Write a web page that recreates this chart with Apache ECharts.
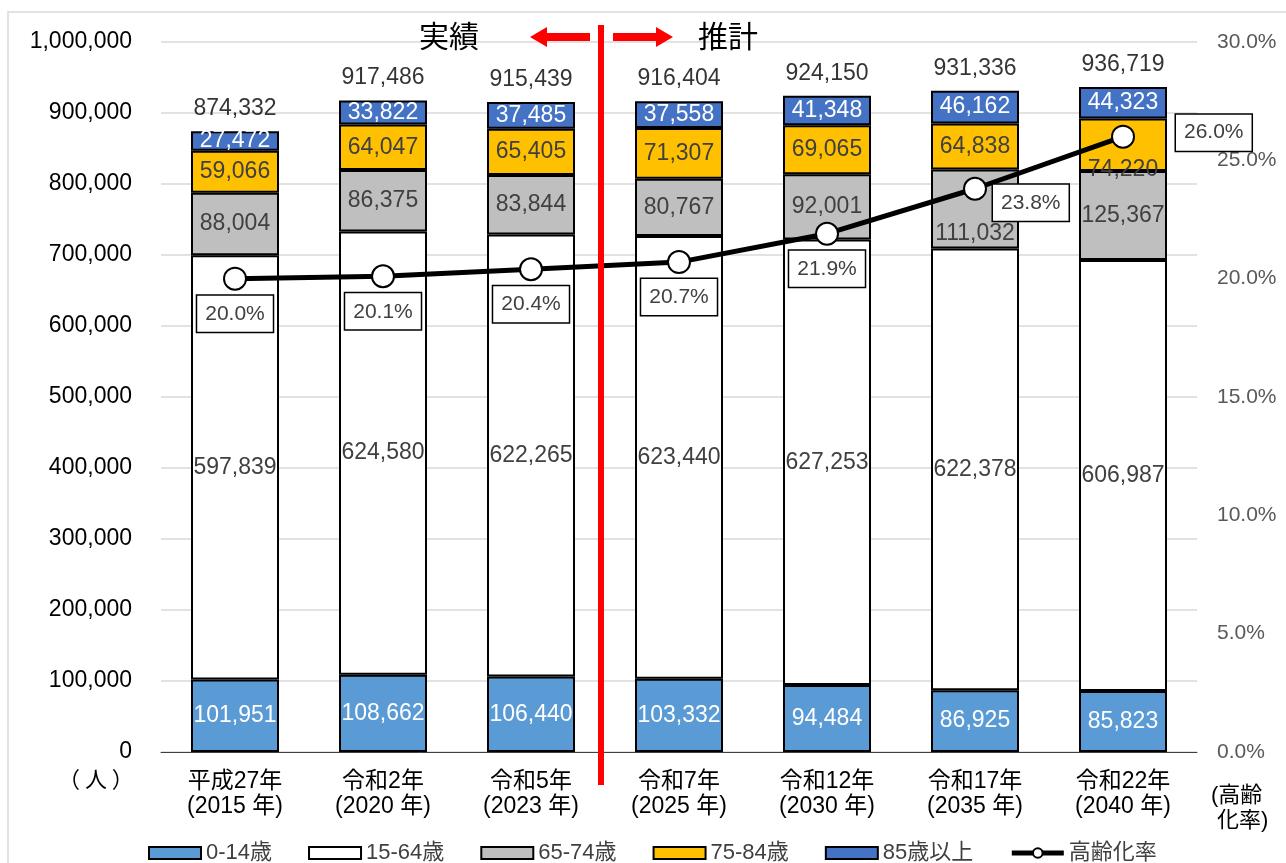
<!DOCTYPE html>
<html>
<head>
<meta charset="utf-8">
<script src="https://cdn.jsdelivr.net/npm/echarts@6/dist/echarts.min.js"></script>
<style>html,body{margin:0;padding:0;background:#fff}#c{width:1286px;height:863px}</style>
</head>
<body>
<div id="c"></div>
<script>
const categories = ['平成27年\n(2015 年)', '令和2年\n(2020 年)', '令和5年\n(2023 年)', '令和7年\n(2025 年)', '令和12年\n(2030 年)', '令和17年\n(2035 年)', '令和22年\n(2040 年)'];
const age0_14 = [101951, 108662, 106440, 103332, 94484, 86925, 85823];
const age15_64 = [597839, 624580, 622265, 623440, 627253, 622378, 606987];
const age65_74 = [88004, 86375, 83844, 80767, 92001, 111032, 125367];
const age75_84 = [59066, 64047, 65405, 71307, 69065, 64838, 74220];
const age85 = [27472, 33822, 37485, 37558, 41348, 46162, 44323];
const totals = [874332, 917486, 915439, 916404, 924150, 931336, 936719];
const agingRate = [20.0, 20.1, 20.4, 20.7, 21.9, 23.8, 26.0];

const FF = "'Liberation Sans', 'Noto Sans CJK JP', sans-serif";
const fmt = v => v.toLocaleString('en-US');

function barSeries(name, data, color, labelColor, offsets) {
  return {
    name, type: 'bar', stack: 'pop', data: data.map((v, i) => {
      const o = { value: v };
      if (offsets && offsets[i]) o.label = { offset: offsets[i] };
      return o;
    }),
    barWidth: 88,
    itemStyle: { color, borderColor: '#000', borderWidth: 2 },
    label: { show: true, position: 'inside', color: labelColor, fontSize: 23, fontFamily: FF,
      formatter: p => fmt(p.value) },
    z: 2
  };
}

const chart = echarts.init(document.getElementById('c'));
const option = {
  animation: false,
  textStyle: { fontFamily: FF },
  grid: { left: 161, right: 89, top: 42, bottom: 111 },
  legend: {
    left: 143, top: 837, itemWidth: 52, itemHeight: 12, itemGap: 36,
    textStyle: { fontSize: 22, color: '#404040', fontFamily: FF },
    data: [
      { name: '0-14歳', icon: 'rect' }, { name: '15-64歳', icon: 'rect' }, { name: '65-74歳', icon: 'rect' },
      { name: '75-84歳', icon: 'rect' }, { name: '85歳以上', icon: 'rect' },
      { name: '高齢化率', lineStyle: { width: 5, color: '#000' }, itemStyle: { color: '#fff', borderColor: '#000', borderWidth: 2 } }
    ]
  },
  xAxis: {
    type: 'category', data: categories,
    axisLine: { lineStyle: { color: '#404040', width: 1 } },
    axisTick: { show: false },
    axisLabel: { color: '#000', fontSize: 23, lineHeight: 25, margin: 17, fontFamily: FF }
  },
  yAxis: [
    { type: 'value', min: 0, max: 1000000, interval: 100000,
      axisLabel: { color: '#000', fontSize: 23, margin: 29, formatter: v => fmt(v), fontFamily: FF },
      axisLine: { show: false }, axisTick: { show: false },
      splitLine: { lineStyle: { color: '#d9d9d9', width: 1.5 } } },
    { type: 'value', min: 0, max: 30, interval: 5,
      axisLabel: { color: '#595959', fontSize: 21, margin: 20, formatter: v => v.toFixed(1) + '%', fontFamily: FF },
      axisLine: { show: false }, axisTick: { show: false }, splitLine: { show: false } }
  ],
  series: [
    barSeries('0-14歳', age0_14, '#5B9BD5', '#fff'),
    barSeries('15-64歳', age15_64, '#fff', '#404040'),
    barSeries('65-74歳', age65_74, '#BFBFBF', '#404040', { 5: [0, 25] }),
    barSeries('75-84歳', age75_84, '#FFC000', '#404040', { 6: [0, 25] }),
    barSeries('85歳以上', age85, '#4472C4', '#fff'),
    {
      name: 'total', type: 'scatter', data: totals, symbolSize: 0, silent: true,
      label: { show: true, position: 'top', distance: 11, color: '#000', fontSize: 23, fontFamily: FF,
        formatter: p => fmt(p.value) },
      z: 3
    },
    {
      name: '高齢化率', type: 'line', yAxisIndex: 1,
      data: agingRate.map((v, i) => {
        const o = { value: v };
        if (i === 5) o.label = { position: 'right', distance: 6, offset: [0, 14] };
        if (i === 6) o.label = { position: 'right', distance: 41, offset: [0, -4] };
        return o;
      }),
      symbol: 'circle', symbolSize: 22,
      lineStyle: { color: '#000', width: 5 },
      itemStyle: { color: '#fff', borderColor: '#000', borderWidth: 2 },
      label: { show: true, position: 'bottom', distance: 5, color: '#404040', fontSize: 21, fontFamily: FF,
        backgroundColor: '#fff', borderColor: '#000', borderWidth: 1.5, padding: [8, 8, 7, 8],
        formatter: p => p.value.toFixed(1) + '%' },
      z: 5
    }
  ],
  graphic: [
    { type: 'rect', shape: { x: 8, y: 12, width: 1400, height: 1000 }, style: { fill: 'none', stroke: '#d9d9d9', lineWidth: 1.5 }, silent: true, z: -10 },
    { type: 'rect', shape: { x: 598, y: 25, width: 6, height: 760 }, style: { fill: '#ff0000' }, z: 10 },
    { type: 'polygon', shape: { points: [[590, 33], [547, 33], [547, 27], [530, 37], [547, 47], [547, 41], [590, 41]] }, style: { fill: '#ff0000' }, z: 10 },
    { type: 'polygon', shape: { points: [[613, 33], [656, 33], [656, 27], [673, 37], [656, 47], [656, 41], [613, 41]] }, style: { fill: '#ff0000' }, z: 10 },
    { type: 'text', left: 419, top: 21, style: { text: '実績', font: "30px 'Noto Sans CJK JP'", fill: '#000' }, z: 10 },
    { type: 'text', left: 698, top: 21, style: { text: '推計', font: "30px 'Noto Sans CJK JP'", fill: '#000' }, z: 10 },
    { type: 'text', left: 58, top: 768, style: { text: '（ 人 ）', font: "22px 'Noto Sans CJK JP'", fill: '#000' } },
    { type: 'text', left: 1211, top: 783, style: { text: '(高齢\n 化率)', font: "22px 'Liberation Sans','Noto Sans CJK JP'", fill: '#000', lineHeight: 25 } }
  ]
};
chart.setOption(option);
</script>
</body>
</html>
